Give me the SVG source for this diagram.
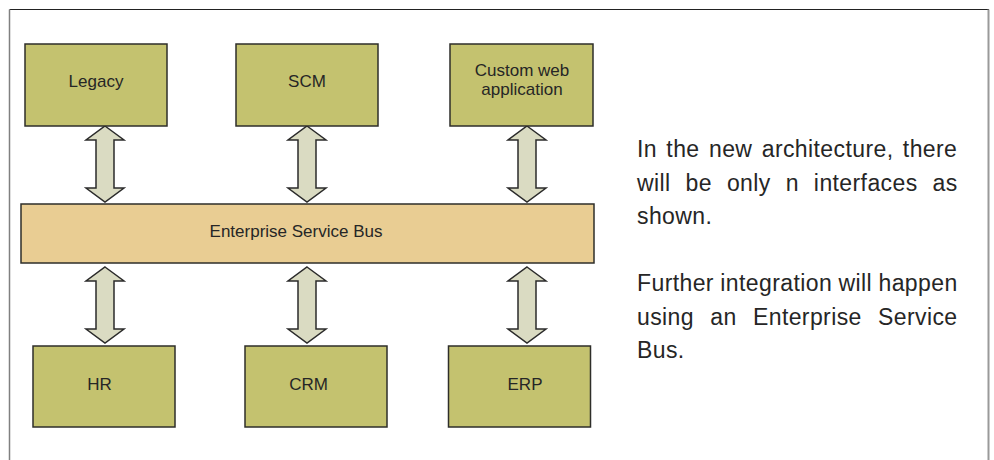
<svg xmlns="http://www.w3.org/2000/svg" xmlns:xlink="http://www.w3.org/1999/xlink" width="994" height="460" viewBox="0 0 994 460">
<style>
.box{fill:#C4C26F;stroke:#2E2E2A;stroke-width:1.5}
.bus{fill:#E9CD93;stroke:#2E2E2A;stroke-width:1.5}
.lbl{font-family:"Liberation Sans",Arial,sans-serif;font-size:17px;fill:#262626;text-anchor:middle}
.para{font-family:"Liberation Sans",Arial,sans-serif;font-size:23px;fill:#262626;letter-spacing:0.4px}
.arr{fill:#DADBC2;stroke:#2B2B2B;stroke-width:1.5;stroke-linejoin:miter}
</style>
<defs>
<path id="dblarrow" class="arr" d="M0,0 L19,14 L9,14 L9,62 L19,62 L0,76 L-19,62 L-9,62 L-9,14 L-19,14 Z"/>
</defs>
<rect width="994" height="460" fill="#FFFFFF"/>
<g id="frame">
<line x1="9.5" y1="9.5" x2="989" y2="9.5" stroke="#222" stroke-width="1.2"/>
<line x1="9.5" y1="9.5" x2="9.5" y2="460" stroke="#808080" stroke-width="1.5"/>
<line x1="988.5" y1="9.5" x2="988.5" y2="460" stroke="#9A9A9A" stroke-width="2"/>
</g>
<g id="connectors">
<use xlink:href="#dblarrow" transform="translate(105,126)"/>
<use xlink:href="#dblarrow" transform="translate(307,126)"/>
<use xlink:href="#dblarrow" transform="translate(527,126)"/>
<use xlink:href="#dblarrow" transform="translate(105,267)"/>
<use xlink:href="#dblarrow" transform="translate(307,267)"/>
<use xlink:href="#dblarrow" transform="translate(527,267)"/>
</g>
<g id="legacy">
<rect class="box" x="25" y="44" width="142" height="82"/>
<text class="lbl" x="96" y="87">Legacy</text>
</g>
<g id="scm">
<rect class="box" x="236" y="44" width="142" height="82"/>
<text class="lbl" x="307" y="87">SCM</text>
</g>
<g id="custom-web">
<rect class="box" x="450" y="44" width="143" height="82"/>
<text class="lbl" x="522" y="76">Custom web</text>
<text class="lbl" x="522" y="95">application</text>
</g>
<g id="esb">
<rect class="bus" x="21" y="204" width="573" height="59"/>
<text class="lbl" x="296" y="236.5">Enterprise Service Bus</text>
</g>
<g id="hr">
<rect class="box" x="33" y="346" width="142" height="81"/>
<text class="lbl" x="99.5" y="390">HR</text>
</g>
<g id="crm">
<rect class="box" x="245" y="346" width="142" height="81"/>
<text class="lbl" x="308.5" y="390">CRM</text>
</g>
<g id="erp">
<rect class="box" x="448.5" y="346" width="142" height="81"/>
<text class="lbl" x="525" y="390">ERP</text>
</g>
<g id="notes">
<text class="para" x="637" y="157" word-spacing="2.6">In the new architecture, there</text>
<text class="para" x="637" y="190.5" word-spacing="8.2">will be only n interfaces as</text>
<text class="para" x="637" y="224">shown.</text>
<text class="para" x="637" y="291" word-spacing="-0.4">Further integration will happen</text>
<text class="para" x="637" y="324.5" word-spacing="9.5">using an Enterprise Service</text>
<text class="para" x="637" y="358">Bus.</text>
</g>
</svg>
